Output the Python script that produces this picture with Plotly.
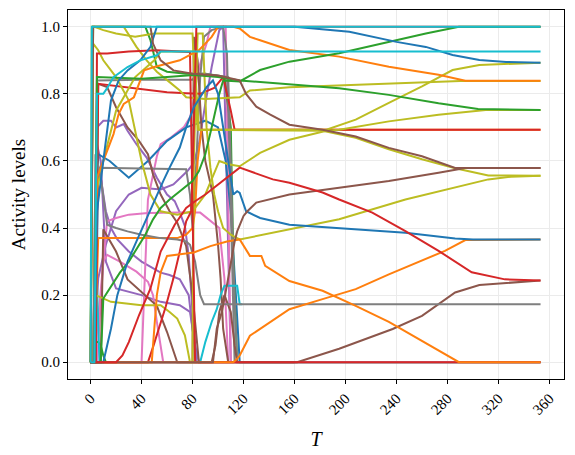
import plotly.graph_objects as go

# tab10 colours
BLUE, ORANGE, GREEN, RED = '#1f77b4', '#ff7f0e', '#2ca02c', '#d62728'
PURPLE, BROWN, PINK, GRAY = '#9467bd', '#8c564b', '#e377c2', '#7f7f7f'
OLIVE, CYAN = '#bcbd22', '#17becf'

# ---- series (T, activity level) ----
purple_1_t = [0, 2, 5, 10, 16, 20, 26, 29, 36, 44, 52, 60, 66, 70, 74, 77, 80, 83]
purple_1_v = [0, 0, 0.7, 0.72, 0.72, 0.70, 0.71, 0.69, 0.65, 0.61, 0.55, 0.5, 0.48, 0.446, 0.406, 0.317, 0.15, 0.0]
purple_2_t = [0, 2, 4, 8, 12, 16, 21, 30, 40, 55, 62, 70, 77, 80, 83]
purple_2_v = [0, 0, 0.62, 0.55, 0.45, 0.4, 0.366, 0.33, 0.3, 0.267, 0.26, 0.247, 0.2, 0.1, 0.0]
purple_3_t = [0, 3, 5, 8, 12, 20, 40, 55, 70, 78, 82, 85]
purple_3_v = [0, 0, 0.65, 0.6, 0.3, 0.22, 0.2, 0.18, 0.17, 0.15, 0.05, 0]
purple_4_t = [0, 2, 6, 12, 20, 30, 40, 55, 65, 76, 81, 85, 90, 95, 101, 104, 107, 110]
purple_4_v = [0, 0, 0.25, 0.35, 0.45, 0.5, 0.52, 0.515, 0.53, 0.57, 0.594, 0.65, 0.77, 0.88, 0.99, 1.0, 0.5, 0.0]

pink_1_t = [0, 40, 42, 45, 52, 55, 63, 73, 78, 81, 83, 86, 91, 94, 106, 108, 110]
pink_1_v = [0, 0, 0.2, 0.485, 0.614, 0.65, 0.67, 0.7, 0.73, 0.78, 0.84, 0.89, 0.95, 1.0, 1.0, 0.5, 0.0]
pink_2_t = [0, 5, 10, 13, 20, 30, 45, 55, 70, 86, 94, 101, 105, 108]
pink_2_v = [0, 0, 0.3, 0.42, 0.43, 0.44, 0.445, 0.446, 0.446, 0.446, 0.42, 0.4, 0.25, 0.0]
pink_3_t = [0, 3, 10, 13, 23, 36, 45, 49, 52, 55, 57]
pink_3_v = [0, 0, 0.3, 0.32, 0.3, 0.27, 0.24, 0.2, 0.12, 0.05, 0]
pink_zero_t = [0, 353]
pink_zero_v = [0, 0]

green_small_t = [0, 3, 4, 6, 8, 10, 12]
green_small_v = [0, 0, 0.06, 0.06, 0.05, 0.02, 0]
green_zero_t = [0, 2, 43, 47, 52, 60, 75, 90, 105, 110, 112, 115, 353]
green_zero_v = [0, 1.0, 1.0, 0.96, 0.88, 0.866, 0.86, 0.86, 0.85, 0.7, 0.3, 0.0, 0.0]
green_up_t = [0, 8, 10, 15, 23, 30, 36, 43, 49, 55, 62, 70, 75, 80, 85, 90, 95, 101, 104, 117,
              133, 156, 195, 234, 263, 289, 353]
green_up_v = [0, 0, 0.19, 0.22, 0.267, 0.30, 0.337, 0.38, 0.426, 0.46, 0.485, 0.51, 0.525, 0.54, 0.57,
              0.62, 0.70, 0.80, 0.84, 0.837, 0.871, 0.896, 0.921, 0.955, 0.98, 1.0, 1.0]
green_down_t = [0, 3, 5, 40, 60, 81, 100, 117, 195, 234, 273, 304, 353]
green_down_v = [0, 0, 0.85, 0.845, 0.85, 0.856, 0.85, 0.84, 0.817, 0.797, 0.772, 0.755, 0.752]

blue_zero_t = [0, 4, 6, 15, 30, 45, 60, 75, 90, 100, 106, 110, 114, 117, 353]
blue_zero_v = [0, 0, 0.62, 0.6, 0.55, 0.6, 0.66, 0.7, 0.72, 0.7, 0.6, 0.45, 0.2, 0.0, 0.0]
blue_top_t = [0, 3, 5, 10, 16, 22, 29, 39, 47, 52, 160, 203, 240, 263, 284, 305, 326, 353]
blue_top_v = [0, 0, 0.45, 0.6, 0.78, 0.84, 0.87, 0.9, 0.94, 1.0, 1.0, 0.985, 0.955, 0.94, 0.916, 0.901, 0.895, 0.893]
blue_mid_t = [0, 8, 10, 13, 16, 21, 29, 36, 44, 52, 57, 62, 70, 75, 81, 86, 91, 96, 100, 104, 108,
              112, 115, 117, 122, 133, 156, 195, 247, 286, 300, 353]
blue_mid_v = [0, 0, 0.0, 0.05, 0.1, 0.2, 0.3, 0.36, 0.43, 0.5, 0.54, 0.58, 0.64, 0.7, 0.76, 0.79, 0.82,
              0.84, 0.8, 0.7, 0.6, 0.5, 0.51, 0.505, 0.45, 0.43, 0.41, 0.40, 0.386, 0.369, 0.366, 0.366]

gray_hi_t = [0, 3, 6, 16, 40, 60, 75, 78, 80, 83, 86, 89, 95, 104, 107, 109, 111, 113]
gray_hi_v = [0, 0, 0.58, 0.579, 0.578, 0.576, 0.575, 0.5, 0.4, 0.6, 0.85, 0.97, 0.99, 1.0, 0.92, 0.61, 0.3, 0.0]
gray_84_t = [0, 3, 5, 40, 80, 83, 90, 100, 108, 110, 112, 115]
gray_84_v = [0, 0, 0.84, 0.842, 0.842, 0.86, 0.86, 0.855, 0.85, 0.6, 0.3, 0.0]
gray_17_t = [0, 2, 4, 8, 13, 20, 29, 40, 55, 68, 75, 78, 82, 86, 89, 353]
gray_17_v = [0, 0, 0.62, 0.55, 0.41, 0.40, 0.39, 0.38, 0.37, 0.366, 0.36, 0.35, 0.3, 0.2, 0.173, 0.173]

brown_drop_t = [0, 80, 81, 84, 87, 90, 96, 100, 102, 104, 108]
brown_drop_v = [0, 0, 0.97, 0.9, 0.7, 0.6, 0.5, 0.35, 0.25, 0.1, 0.0]
brown_bump_t = [0, 95, 98, 101, 105, 110, 113, 115]
brown_bump_v = [0, 0, 0.05, 0.15, 0.2, 0.15, 0.05, 0]
brown_zero_t = [0, 8, 10, 20, 29, 40, 52, 60, 65, 68, 160]
brown_zero_v = [0, 0, 0.396, 0.33, 0.247, 0.21, 0.168, 0.09, 0.03, 0.0, 0.0]
brown_low_t = [0, 3, 6, 13, 20, 29, 38, 45, 49, 55, 62, 68, 75, 80, 85, 162, 195, 237, 260, 286, 305, 353]
brown_low_v = [0, 0, 0.83, 0.82, 0.76, 0.70, 0.66, 0.62, 0.56, 0.5, 0.45, 0.416, 0.346, 0.2, 0.0, 0.0,
               0.04, 0.099, 0.138, 0.208, 0.23, 0.244]
brown_fall_t = [0, 2, 47, 49, 55, 65, 80, 100, 117, 122, 130, 141, 156, 182, 208, 234, 260, 286, 353]
brown_fall_v = [0, 1.0, 1.0, 0.95, 0.9, 0.87, 0.86, 0.855, 0.84, 0.8, 0.762, 0.738, 0.708, 0.693, 0.673,
                0.639, 0.614, 0.579, 0.579]
brown_rise_t = [0, 94, 96, 99, 103, 107, 110, 113, 115, 120, 123, 130, 156, 195, 234, 273, 294, 353]
brown_rise_v = [0, 0, 0.0, 0.1, 0.15, 0.23, 0.3, 0.36, 0.39, 0.436, 0.45, 0.476, 0.5, 0.52, 0.54, 0.565, 0.579, 0.579]

cyan_low_t = [0, 3, 4, 7, 86, 90, 95, 99, 102, 105, 115, 117, 119]
cyan_low_v = [0, 0, 0.36, 0.0, 0.0, 0.06, 0.12, 0.158, 0.2, 0.228, 0.228, 0.173, 0.173]
cyan_mid_t = [0, 3, 5, 10, 13, 18, 29, 39, 52, 55, 353]
cyan_mid_v = [0, 0, 0.8, 0.8, 0.817, 0.85, 0.88, 0.9, 0.915, 0.926, 0.926]
cyan_top_t = [0, 1, 353]
cyan_top_v = [0, 1.0, 1.0]

orange_69_t = [0, 3, 6, 16, 40, 68, 75, 80, 82, 84, 87, 353]
orange_69_v = [0, 0, 0.37, 0.37, 0.37, 0.37, 0.38, 0.4, 0.45, 0.6, 0.693, 0.693]
orange_top_t = [0, 3, 5, 18, 22, 26, 34, 42, 50, 70, 85, 95, 100, 112, 117, 125, 133, 156, 195, 234, 273, 294, 353]
orange_top_v = [0, 0, 0.55, 0.68, 0.74, 0.77, 0.79, 0.87, 0.88, 0.9, 0.93, 0.97, 1.0, 1.0, 0.995, 0.97, 0.96,
                0.931, 0.911, 0.881, 0.857, 0.839, 0.839]
orange_fall_t = [0, 48, 50, 52, 55, 60, 81, 94, 107, 115, 117, 125, 134, 137, 156, 182, 208, 234, 260, 289, 353]
orange_fall_v = [0, 0, 0.1, 0.2, 0.268, 0.317, 0.327, 0.346, 0.36, 0.366, 0.366, 0.317, 0.317, 0.287, 0.242,
                 0.213, 0.168, 0.12, 0.064, 0.0, 0.0]
orange_rise_t = [0, 112, 115, 117, 125, 137, 156, 182, 208, 234, 260, 278, 294, 353]
orange_rise_v = [0, 0, 0.01, 0.02, 0.079, 0.109, 0.158, 0.188, 0.218, 0.262, 0.302, 0.332, 0.364, 0.366]

red_925_t = [0, 4, 5, 13, 30, 52, 78, 80, 82, 353]
red_925_v = [0, 0, 0.92, 0.92, 0.926, 0.93, 0.925, 0.5, 0.0, 0.0]
red_69_t = [0, 4, 6, 13, 20, 40, 60, 75, 86, 97, 104, 110, 113, 353]
red_69_v = [0, 0, 0.83, 0.827, 0.822, 0.815, 0.805, 0.802, 0.80, 0.818, 0.85, 0.75, 0.693, 0.693]
red_up_t = [0, 45, 49, 55, 59, 65, 70, 75, 79, 81, 83, 85, 353]
red_up_v = [0, 0, 0.045, 0.12, 0.166, 0.25, 0.33, 0.42, 0.45, 0.7, 1.0, 1.0, 1.0]
red_24_t = [0, 20, 25, 30, 38, 47, 55, 66, 75, 82, 90, 100, 110, 117, 143, 156, 182, 195, 221, 247, 273,
            299, 325, 353]
red_24_v = [0, 0, 0.02, 0.06, 0.14, 0.22, 0.33, 0.41, 0.46, 0.48, 0.5, 0.53, 0.56, 0.58, 0.545, 0.535,
            0.506, 0.485, 0.446, 0.391, 0.332, 0.268, 0.247, 0.244]

olive_84_t = [0, 2, 26, 36, 44, 52, 62, 70, 75, 90, 117, 125, 156, 195, 234, 263, 290, 353]
olive_84_v = [0, 1.0, 1.0, 0.94, 0.9, 0.866, 0.835, 0.81, 0.79, 0.785, 0.79, 0.81, 0.82, 0.825, 0.83,
              0.835, 0.838, 0.838]
olive_89_t = [0, 2, 4, 10, 20, 35, 50, 55, 81, 83, 85, 185, 208, 234, 260, 284, 305, 353]
olive_89_v = [0, 0, 0.5, 0.6, 0.75, 0.85, 0.9, 0.926, 0.926, 0.8, 0.693, 0.693, 0.723, 0.773, 0.822,
              0.871, 0.886, 0.893]
olive_fall_t = [0, 1, 3, 10, 20, 35, 50, 65, 80, 82, 84, 182, 208, 234, 260, 286, 312, 353]
olive_fall_v = [0, 1.0, 1.0, 0.99, 0.98, 0.97, 0.98, 0.98, 0.98, 0.8, 0.693, 0.69, 0.669, 0.635, 0.605,
                0.578, 0.557, 0.556]
olive_75_t = [0, 2, 6, 10, 20, 30, 40, 47, 55, 68, 80, 90, 101, 108, 117, 133, 156, 185, 195, 234, 273, 310, 353]
olive_75_v = [0, 0.95, 0.93, 0.9, 0.85, 0.78, 0.6, 0.5, 0.45, 0.44, 0.45, 0.5, 0.6, 0.59, 0.584, 0.624,
              0.663, 0.69, 0.693, 0.718, 0.738, 0.752, 0.752]
olive_rise_t = [0, 2, 4, 16, 40, 55, 62, 68, 74, 78, 80, 81, 84, 88, 91, 94, 97, 100, 104, 110, 115, 117,
                195, 247, 312, 330, 353]
olive_rise_v = [0, 0, 0.2, 0.18, 0.17, 0.17, 0.15, 0.13, 0.08, 0.0, 0.0, 0.6, 0.98, 0.98, 0.7, 0.58, 0.5,
                0.45, 0.4, 0.38, 0.37, 0.366, 0.426, 0.485, 0.545, 0.553, 0.556]

# drawing order (later = on top)
series = [
    (purple_1_t, purple_1_v, PURPLE), (purple_2_t, purple_2_v, PURPLE),
    (purple_3_t, purple_3_v, PURPLE), (purple_4_t, purple_4_v, PURPLE),
    (pink_1_t, pink_1_v, PINK), (pink_2_t, pink_2_v, PINK), (pink_3_t, pink_3_v, PINK),
    (green_small_t, green_small_v, GREEN), (blue_zero_t, blue_zero_v, BLUE),
    (green_zero_t, green_zero_v, GREEN), (gray_hi_t, gray_hi_v, GRAY), (gray_84_t, gray_84_v, GRAY),
    (brown_drop_t, brown_drop_v, BROWN), (brown_bump_t, brown_bump_v, BROWN),
    (cyan_low_t, cyan_low_v, CYAN), (pink_zero_t, pink_zero_v, PINK),
    (brown_zero_t, brown_zero_v, BROWN), (brown_low_t, brown_low_v, BROWN),
    (orange_69_t, orange_69_v, ORANGE), (red_69_t, red_69_v, RED),
    (olive_84_t, olive_84_v, OLIVE), (olive_89_t, olive_89_v, OLIVE), (olive_fall_t, olive_fall_v, OLIVE),
    (olive_75_t, olive_75_v, OLIVE), (olive_rise_t, olive_rise_v, OLIVE),
    (gray_17_t, gray_17_v, GRAY), (red_925_t, red_925_v, RED), (red_up_t, red_up_v, RED),
    (orange_top_t, orange_top_v, ORANGE), (orange_fall_t, orange_fall_v, ORANGE),
    (orange_rise_t, orange_rise_v, ORANGE), (green_up_t, green_up_v, GREEN),
    (green_down_t, green_down_v, GREEN), (blue_top_t, blue_top_v, BLUE), (blue_mid_t, blue_mid_v, BLUE),
    (brown_fall_t, brown_fall_v, BROWN), (brown_rise_t, brown_rise_v, BROWN), (red_24_t, red_24_v, RED),
    (cyan_mid_t, cyan_mid_v, CYAN), (cyan_top_t, cyan_top_v, CYAN),
]

fig = go.Figure()
for t, v, color in series:
    fig.add_trace(go.Scatter(x=t, y=v, mode='lines', line=dict(color=color, width=2),
                             showlegend=False, hoverinfo='skip'))

font = 'Liberation Serif, Times New Roman, serif'
axis_common = dict(showline=True, mirror=True, linecolor='black', linewidth=1,
                   ticks='outside', ticklen=4, tickcolor='black', automargin=False,
                   showgrid=True, gridcolor='#ebebeb', gridwidth=0.8, zeroline=False,
                   tickfont=dict(family=font, size=15, color='black'))
# the page body has an 8px default margin, so the figure is shifted by (8, 8)
fig.update_layout(
    width=575, height=455,
    margin=dict(l=60, r=19, t=2, b=84),
    paper_bgcolor='white', plot_bgcolor='white',
    xaxis=dict(range=[-17.7, 371.4], tickvals=list(range(0, 361, 40)), tickangle=-45,
               title=dict(text='<i>T</i>', font=dict(family=font, size=20, color='black')),
               **axis_common),
    yaxis=dict(range=[-0.05, 1.05], tickvals=[0, 0.2, 0.4, 0.6, 0.8, 1.0], tickformat='.1f',
               title=dict(text='Activity levels', font=dict(family=font, size=19, color='black')),
               **axis_common),
)
fig.write_html("out.html")
